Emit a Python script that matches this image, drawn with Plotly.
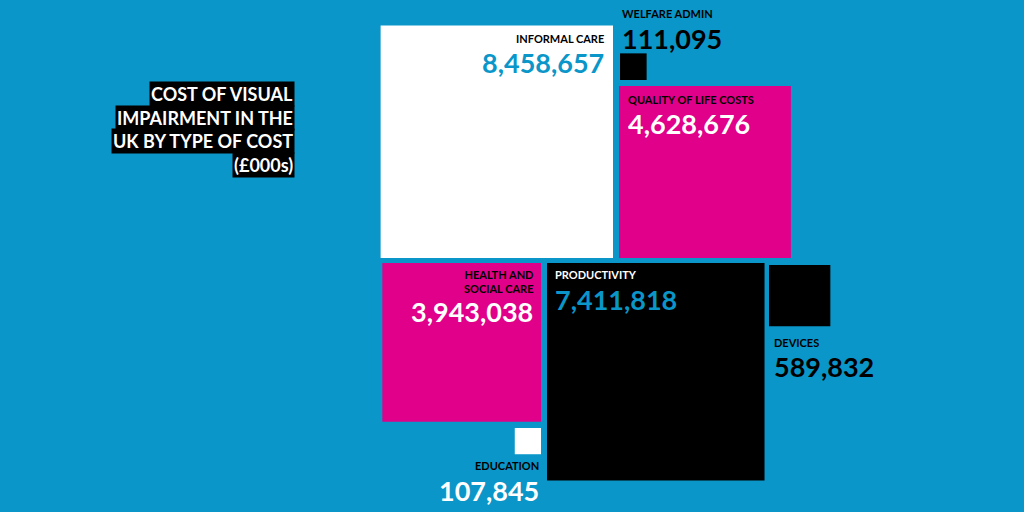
import math
import plotly.graph_objects as go

# Data (£000s)
categories = ["INFORMAL CARE", "WELFARE ADMIN", "QUALITY OF LIFE COSTS", "HEALTH AND<br>SOCIAL CARE",
              "PRODUCTIVITY", "DEVICES", "EDUCATION"]
values = [8458657, 111095, 4628676, 3943038, 7411818, 589832, 107845]

BG = "#0a96c8"
PINK = "#e0008a"
fill = ["white", "black", PINK, PINK, "black", "black", "white"]
label_col = ["black", "black", "black", "black", "white", "black", "black"]
value_col = [BG, "black", "white", "white", BG, "black", "white"]

# layout anchors in pixels: (x, y, horizontal side, vertical side)
anchors = [(613, 258, "right", "bottom"), (620, 80, "left", "bottom"), (619, 258, "left", "bottom"),
           (541, 263, "right", "top"), (547, 263, "left", "top"), (769, 265, "left", "top"),
           (541, 428, "right", "top")]
# label positions: (x, y of label, y of value, xanchor)
label_pos = [(606, 38, 62, "right"), (620, 13, 38, "left"), (626, 99, 123, "left"),
             (535, 281, 311, "right"), (553, 274, 299, "left"), (772, 342, 366, "left"),
             (541, 465, 490, "right")]

k = 0.0799  # pixels per sqrt(value)

fig = go.Figure()
fig.add_trace(go.Scatter(x=[0, 1024], y=[0, 512], mode="markers", marker=dict(opacity=0), hoverinfo="skip"))

for cat, v, f, a, lp, lc, vc in zip(categories, values, fill, anchors, label_pos, label_col, value_col):
    s = k * math.sqrt(v)
    ax, ay, hs, vs = a
    x0 = ax - s if hs == "right" else ax
    y0 = ay - s if vs == "bottom" else ay
    fig.add_shape(type="rect", x0=x0, x1=x0 + s, y0=y0, y1=y0 + s, fillcolor=f, line=dict(width=0), layer="below")
    lx, ly, vy, xa = lp
    fig.add_annotation(x=lx, y=ly, text="<b>%s</b>" % cat, showarrow=False, xanchor=xa, yanchor="middle",
                       align=xa, font=dict(family="Lato", size=11, color=lc))
    fig.add_annotation(x=lx, y=vy, text="<b>%s</b>" % f"{v:,}", showarrow=False, xanchor=xa, yanchor="middle",
                       font=dict(family="Lato", size=27, color=vc))

title_lines = ["COST OF VISUAL", "IMPAIRMENT IN THE", "UK BY TYPE OF COST", "(£000s)"]
for i, t in enumerate(title_lines):
    fig.add_annotation(x=295, y=94 + i * 23.5, text="<b>%s</b>" % t, showarrow=False, xanchor="right",
                       yanchor="middle", bgcolor="black", borderpad=1,
                       font=dict(family="Lato", size=18, color="white"))

fig.update_layout(width=1024, height=512, margin=dict(l=0, r=0, t=0, b=0),
                  paper_bgcolor=BG, plot_bgcolor=BG, showlegend=False,
                  xaxis=dict(range=[0, 1024], visible=False, fixedrange=True),
                  yaxis=dict(range=[512, 0], visible=False, fixedrange=True))
fig.write_html("out.html", config={"displayModeBar": False})

# drop the page's default body margin
with open("out.html", encoding="utf-8") as fh:
    html = fh.read()
html = html.replace("<head>", "<head><style>body{margin:0;background:%s;overflow:hidden}</style>" % BG, 1)
with open("out.html", "w", encoding="utf-8") as fh:
    fh.write(html)
